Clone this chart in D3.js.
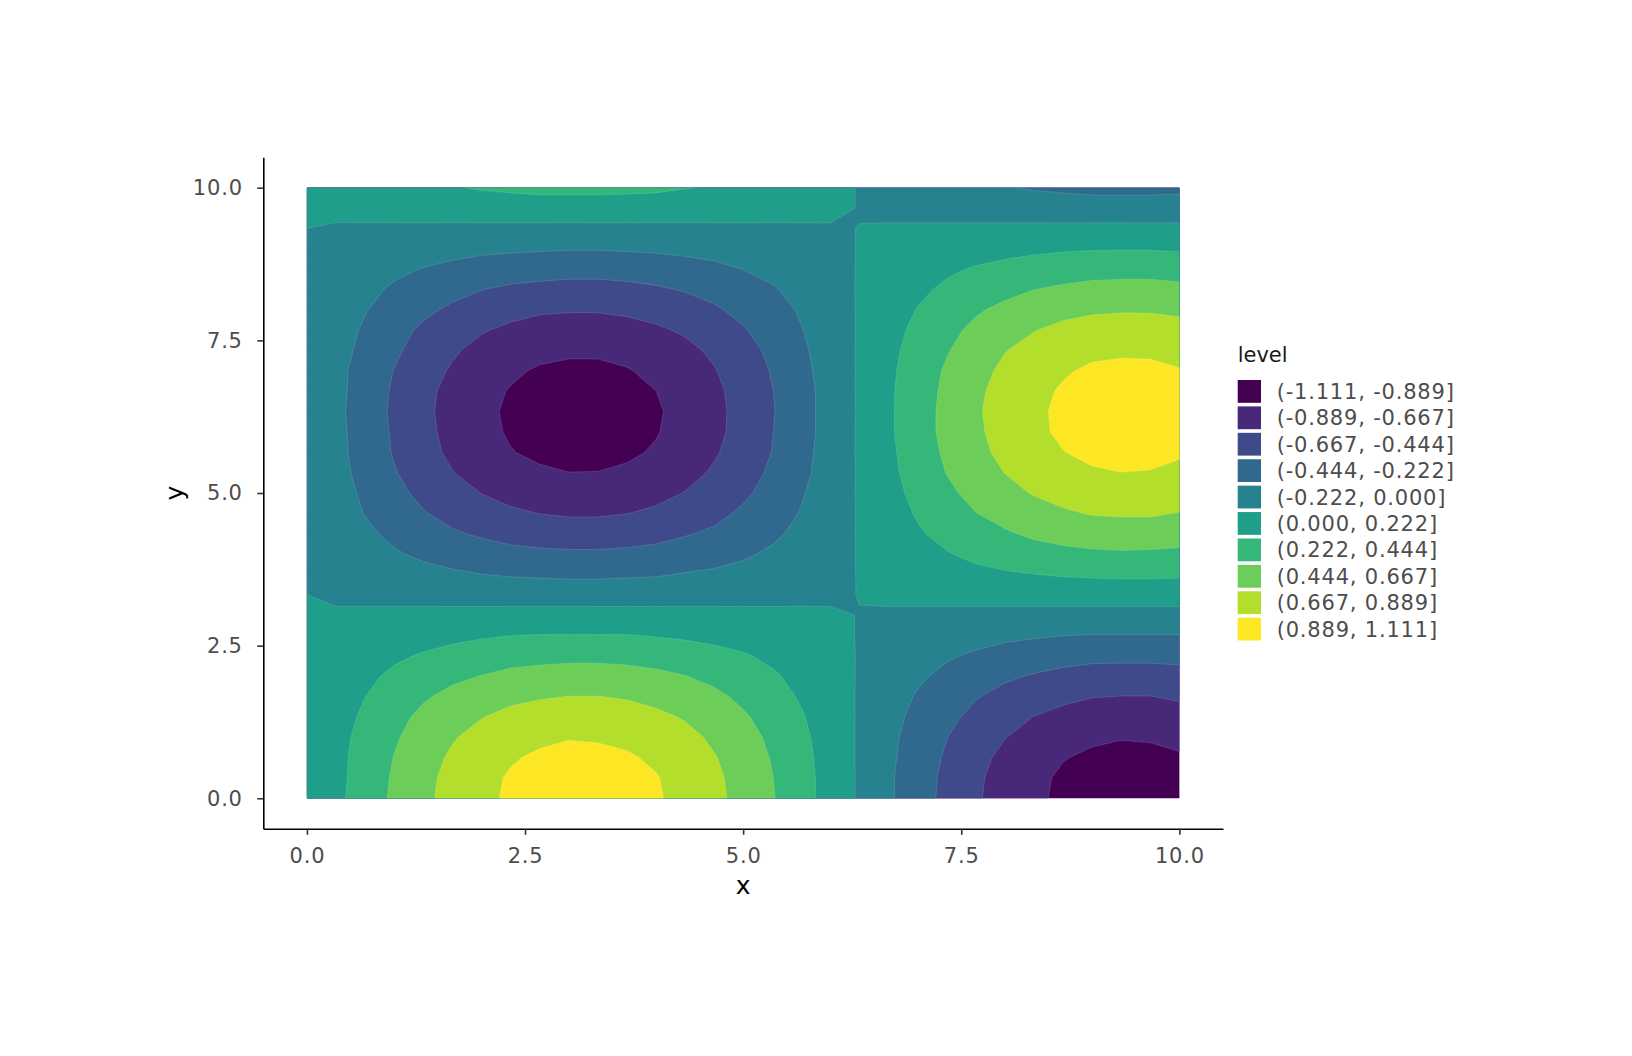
<!DOCTYPE html>
<html>
<head>
<meta charset="utf-8">
<script src="https://cdn.jsdelivr.net/npm/d3@7"></script>
<style>
  body { margin: 0; background: #ffffff; }
  text { font-family: "DejaVu Sans", sans-serif; }
</style>
</head>
<body>
<svg id="chart" width="1632" height="1056"></svg>
<script>
// grid positions (x columns, y rows)
const xGrid = [0, 0.333, 0.667, 1, 1.333, 1.667, 2, 2.333, 2.667, 3, 3.333, 3.667, 4, 4.333, 4.667, 5,
    5.333, 5.667, 6, 6.333, 6.667, 7, 7.333, 7.667, 8, 8.333, 8.667, 9, 9.333, 9.667, 10];
const yGrid = [0, 0.333, 0.667, 1, 1.333, 1.667, 2, 2.333, 2.667, 3, 3.333, 3.667, 4, 4.333, 4.667, 5,
    5.333, 5.667, 6, 6.333, 6.667, 7, 7.333, 7.667, 8, 8.333, 8.667, 9, 9.333, 9.667, 10];

// z values, one row per y (bottom row first)
const zGrid = [
    [0, .17, .33, .48, .62, .74, .84, .92, .97, 1.00, .99, .97, .91, .83, .72, .60, .46, .30, .14, -.025, -.19, -.35, -.50, -.64, -.76, -.85, -.93, -.98, -1.00, -.99, -.96],
    [0, .16, .32, .47, .61, .73, .83, .91, .96, .98, .98, .95, .90, .82, .71, .59, .45, .30, .14, -.025, -.19, -.35, -.49, -.63, -.75, -.84, -.92, -.96, -.98, -.98, -.95],
    [0, .16, .31, .45, .58, .70, .79, .87, .92, .94, .94, .91, .86, .78, .68, .57, .43, .29, .13, -.024, -.18, -.33, -.47, -.60, -.72, -.81, -.88, -.92, -.94, -.94, -.91],
    [0, .15, .29, .42, .54, .65, .74, .81, .85, .88, .87, .85, .80, .73, .63, .53, .40, .27, .12, -.022, -.17, -.31, -.44, -.56, -.66, -.75, -.82, -.86, -.88, -.87, -.84],
    [0, .13, .26, .38, .49, .58, .66, .72, .76, .78, .78, .76, .71, .65, .57, .47, .36, .24, .11, -.020, -.15, -.28, -.39, -.50, -.60, -.67, -.73, -.77, -.79, -.78, -.75],
    [0, .11, .22, .32, .42, .50, .57, .62, .65, .67, .67, .65, .61, .56, .49, .40, .31, .20, .09, -.017, -.13, -.24, -.34, -.43, -.51, -.57, -.62, -.66, -.67, -.67, -.64],
    [0, .09, .18, .26, .33, .40, .45, .50, .52, .54, .54, .52, .49, .45, .39, .32, .25, .16, .08, -.014, -.10, -.19, -.27, -.34, -.41, -.46, -.50, -.53, -.54, -.54, -.52],
    [0, .07, .13, .19, .24, .29, .33, .36, .38, .39, .39, .38, .36, .33, .28, .24, .18, .12, .06, -.010, -.08, -.14, -.20, -.25, -.30, -.34, -.37, -.39, -.39, -.39, -.38],
    [0, .04, .08, .11, .15, .17, .20, .22, .23, .23, .23, .23, .21, .19, .17, .14, .11, .07, .03, -.006, -.04, -.08, -.12, -.15, -.18, -.20, -.22, -.23, -.23, -.23, -.23],
    [0, .012, .023, .034, .044, .052, .059, .065, .069, .071, .070, .068, .064, .059, .051, .042, .032, .022, .010, -.002, -.013, -.025, -.035, -.045, -.054, -.060, -.066, -.069, -.071, -.070, -.068],
    [0, -.016, -.031, -.046, -.059, -.071, -.081, -.088, -.093, -.095, -.095, -.092, -.087, -.079, -.069, -.057, -.044, -.029, -.014, .002, .018, .034, .048, .061, .072, .082, .089, .094, .096, .095, .092],
    [0, -.04, -.08, -.12, -.16, -.19, -.22, -.24, -.25, -.26, -.26, -.25, -.24, -.21, -.19, -.16, -.12, -.08, -.04, .006, .05, .09, .13, .17, .20, .22, .24, .25, .26, .26, .25],
    [0, -.07, -.14, -.20, -.26, -.31, -.35, -.38, -.40, -.41, -.41, -.40, -.38, -.34, -.30, -.25, -.19, -.13, -.06, .010, .08, .15, .21, .27, .31, .36, .39, .41, .42, .41, .40],
    [0, -.09, -.18, -.27, -.35, -.42, -.47, -.52, -.55, -.56, -.56, -.54, -.51, -.46, -.41, -.34, -.26, -.17, -.08, .014, .11, .20, .28, .36, .42, .48, .52, .55, .56, .56, .54],
    [0, -.11, -.23, -.33, -.43, -.51, -.58, -.63, -.67, -.69, -.69, -.67, -.63, -.57, -.50, -.41, -.32, -.21, -.10, .017, .13, .24, .35, .44, .52, .59, .64, .68, .69, .69, .66],
    [0, -.13, -.26, -.38, -.50, -.59, -.67, -.74, -.78, -.80, -.80, -.77, -.73, -.66, -.58, -.48, -.37, -.24, -.11, .020, .15, .28, .40, .51, .61, .68, .74, .78, .80, .80, .77],
    [0, -.15, -.29, -.43, -.55, -.66, -.75, -.82, -.86, -.887, -.885, -.86, -.81, -.74, -.64, -.53, -.41, -.27, -.13, .022, .17, .31, .45, .57, .67, .76, .83, .87, .888, .88, .85],
    [0, -.16, -.31, -.46, -.59, -.71, -.80, -.88, -.93, -.95, -.95, -.92, -.87, -.79, -.69, -.57, -.44, -.29, -.13, .024, .18, .33, .48, .61, .72, .81, .885, .93, .95, .95, .91],
    [0, -.16, -.32, -.47, -.61, -.73, -.83, -.91, -.96, -.99, -.99, -.96, -.90, -.82, -.72, -.59, -.45, -.30, -.14, .025, .19, .35, .50, .63, .75, .85, .92, .97, .99, .98, .95],
    [0, -.17, -.33, -.48, -.62, -.74, -.84, -.92, -.97, -1.00, -.99, -.97, -.91, -.83, -.72, -.60, -.46, -.30, -.14, .025, .19, .35, .50, .64, .76, .85, .93, .98, 1.00, .99, .96],
    [0, -.16, -.32, -.47, -.61, -.73, -.83, -.90, -.95, -.98, -.98, -.95, -.89, -.81, -.71, -.59, -.45, -.30, -.14, .025, .19, .34, .49, .63, .74, .84, .91, .96, .98, .97, .94],
    [0, -.16, -.31, -.45, -.58, -.69, -.79, -.86, -.91, -.93, -.93, -.90, -.85, -.78, -.68, -.56, -.43, -.28, -.13, .023, .18, .33, .47, .60, .71, .80, .87, .92, .94, .93, .90],
    [0, -.14, -.28, -.41, -.53, -.64, -.73, -.80, -.84, -.86, -.86, -.84, -.79, -.72, -.63, -.52, -.40, -.26, -.12, .022, .17, .30, .43, .55, .66, .74, .80, .85, .86, .86, .83],
    [0, -.13, -.25, -.37, -.48, -.57, -.65, -.71, -.75, -.77, -.77, -.74, -.70, -.64, -.56, -.46, -.35, -.23, -.11, .019, .15, .27, .39, .49, .58, .66, .72, .75, .77, .76, .74],
    [0, -.11, -.21, -.31, -.40, -.48, -.55, -.60, -.64, -.65, -.65, -.63, -.59, -.54, -.47, -.39, -.30, -.20, -.09, .016, .12, .23, .33, .42, .49, .56, .61, .64, .65, .65, .63],
    [0, -.09, -.17, -.25, -.32, -.38, -.44, -.48, -.50, -.52, -.52, -.50, -.47, -.43, -.38, -.31, -.24, -.16, -.07, .013, .10, .18, .26, .33, .39, .443, .48, .51, .52, .52, .50],
    [0, -.06, -.12, -.18, -.23, -.27, -.31, -.34, -.36, -.37, -.37, -.36, -.34, -.31, -.27, -.22, -.17, -.11, -.05, .009, .07, .13, .19, .24, .28, .32, .34, .36, .37, .37, .35],
    [0, -.035, -.07, -.10, -.13, -.16, -.18, -.19, -.20, -.21, -.21, -.20, -.19, -.17, -.15, -.13, -.10, -.06, -.03, .005, .04, .07, .11, .13, .16, .18, .20, .21, .21, .21, .20],
    [0, -.008, -.015, -.022, -.028, -.034, -.038, -.042, -.044, -.046, -.045, -.044, -.042, -.038, -.033, -.027, -.021, -.014, -.006, .001, .009, .016, .023, .029, .035, .039, .042, .045, .046, .045, .044],
    [0, .020, .039, .058, .075, .089, .101, .111, .117, .120, .120, .117, .110, .100, .087, .072, .055, .037, .017, -.003, -.023, -.042, -.060, -.077, -.091, -.103, -.112, -.118, -.120, -.120, -.116],
    [0, .05, .09, .14, .18, .21, .24, .26, .28, .28, .28, .27, .26, .23, .21, .17, .13, .09, .04, -.007, -.05, -.10, -.14, -.18, -.21, -.24, -.26, -.28, -.28, -.28, -.27]
];

// band edges and legend
const breaks = [-1.111, -0.889, -0.667, -0.444, -0.222, 0, 0.222, 0.444, 0.667, 0.889, 1.111];
const levelLabels = ["(-1.111, -0.889]", "(-0.889, -0.667]", "(-0.667, -0.444]", "(-0.444, -0.222]",
    "(-0.222, 0.000]", "(0.000, 0.222]", "(0.222, 0.444]", "(0.444, 0.667]", "(0.667, 0.889]", "(0.889, 1.111]"];
const levelColors = ["#440154", "#482878", "#3E4A89", "#31688E", "#26828E",
    "#1F9E89", "#35B779", "#6DCD59", "#B4DE2C", "#FDE725"];

const xTicks = [0, 2.5, 5, 7.5, 10];
const yTicks = [0, 2.5, 5, 7.5, 10];

const svg = d3.select("#chart");

// panel is 0..10 with 5% padding each side
const x = d3.scaleLinear().domain([-0.5, 10.5]).range([263.3, 1223]);
const y = d3.scaleLinear().domain([-0.5, 10.5]).range([828.8, 157.2]);

// contour grid coords -> data coords (values sit at cell centres)
const nx = xGrid.length, ny = yGrid.length;
const gx = d3.scaleLinear().domain([0.5, nx - 0.5]).range([xGrid[0], xGrid[nx - 1]]);
const gy = d3.scaleLinear().domain([0.5, ny - 0.5]).range([yGrid[0], yGrid[ny - 1]]);

const bands = d3.contours()
    .size([nx, ny])
    .thresholds(breaks.slice(0, -1))(zGrid.flat());

const proj = d3.geoTransform({
    point: function(px, py) { this.stream.point(x(gx(px)), y(gy(py))); }
});
const path = d3.geoPath(proj);

svg.append("clipPath").attr("id", "panel-clip")
    .append("rect")
    .attr("x", x(0)).attr("y", y(10))
    .attr("width", x(10) - x(0)).attr("height", y(0) - y(10));

svg.append("g")
    .attr("clip-path", "url(#panel-clip)")
    .selectAll("path")
    .data(bands)
    .join("path")
    .attr("d", path)
    .attr("fill", (d, i) => levelColors[i])
    .attr("fill-rule", "evenodd")
    .attr("stroke", "#ffffff")
    .attr("stroke-opacity", 0.22)
    .attr("stroke-width", 0.6);

// axes
const xAxis = d3.axisBottom(x)
    .tickValues(xTicks)
    .tickFormat(d3.format(".1f"))
    .tickSize(6)
    .tickSizeOuter(0)
    .tickPadding(13.5);

const yAxis = d3.axisLeft(y)
    .tickValues(yTicks)
    .tickFormat(d3.format(".1f"))
    .tickSize(6)
    .tickSizeOuter(0)
    .tickPadding(14.5);

const gX = svg.append("g").attr("transform", "translate(0,828.8)").call(xAxis);
const gY = svg.append("g").attr("transform", "translate(263.3,0)").call(yAxis);

[gX, gY].forEach(g => {
    g.select(".domain").attr("stroke", "#000000").attr("stroke-width", 1.6);
    g.selectAll(".tick line").attr("stroke", "#333333").attr("stroke-width", 1.6);
    g.selectAll(".tick text")
        .attr("fill", "#4D4D4D")
        .style("font-family", "'DejaVu Sans', sans-serif")
        .style("font-size", "21px")
        .style("letter-spacing", "0.8px");
});

// axis titles
svg.append("text")
    .attr("x", (x.range()[0] + x.range()[1]) / 2)
    .attr("y", 894)
    .attr("text-anchor", "middle")
    .style("font-size", "25px")
    .attr("fill", "#000000")
    .text("x");

svg.append("text")
    .attr("transform", `translate(183,${(y.range()[0] + y.range()[1]) / 2}) rotate(-90)`)
    .attr("text-anchor", "middle")
    .style("font-size", "25px")
    .attr("fill", "#000000")
    .text("y");

// legend
const legend = svg.append("g");
const keyY = d3.scaleLinear().domain([0, levelLabels.length - 1]).range([380, 617.7]);

legend.append("text")
    .attr("x", 1237.7)
    .attr("y", 361.7)
    .style("font-size", "21px")
    .attr("fill", "#1a1a1a")
    .text("level");

const keys = legend.selectAll("g.key")
    .data(levelLabels)
    .join("g")
    .attr("class", "key")
    .attr("transform", (d, i) => `translate(1237.7,${keyY(i)})`);

keys.append("rect")
    .attr("width", 23.3)
    .attr("height", 22.8)
    .attr("fill", (d, i) => levelColors[i]);

keys.append("text")
    .attr("x", 39)
    .attr("y", 19)
    .style("font-size", "21px")
    .style("letter-spacing", "0.8px")
    .attr("fill", "#4D4D4D")
    .text(d => d);
</script>
</body>
</html>
